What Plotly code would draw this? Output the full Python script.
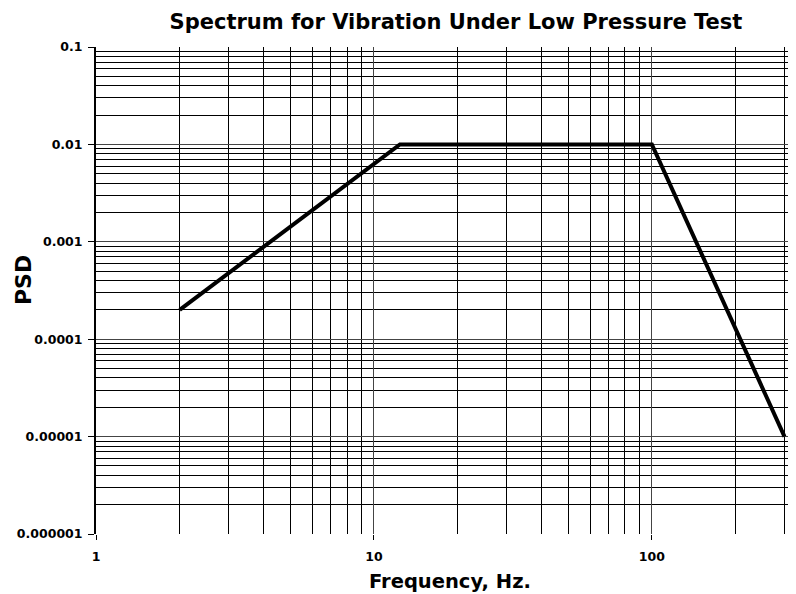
import numpy as np
import plotly.graph_objects as go

freq = [2, 12.4, 100, 300]
psd = [0.0002, 0.01, 0.01, 0.00001]

y_tickvals = [1e-6, 1e-5, 1e-4, 1e-3, 1e-2, 1e-1]
y_ticktext = ["0.000001", "0.00001", "0.0001", "0.001", "0.01", "0.1"]
x_tickvals = [1, 10, 100]
x_ticktext = ["1", "10", "100"]

x_minor = [m * 10 ** e for e in range(0, 3) for m in range(2, 10) if m * 10 ** e <= 330]
y_minor = [m * 10.0 ** e for e in range(-6, -1) for m in range(2, 10)]

font_fam = "DejaVu Sans, Arial, sans-serif"

# page body has an 8px default margin, so the figure is sized to fit the window
W, H = 788, 586
L, T, B = 88, 39, 60

fig = go.Figure()
fig.add_trace(go.Scatter(x=freq, y=psd, mode="lines",
                         line=dict(color="black", width=4), showlegend=False))

plot_h = H - T - B
fig.update_layout(
    width=W, height=H,
    paper_bgcolor="white", plot_bgcolor="white",
    margin=dict(l=L, r=0, t=T, b=B),
    title=dict(text="<b>Spectrum for Vibration Under Low Pressure Test</b>",
               x=448 / W, xanchor="center", y=1 - 14 / H, yanchor="middle",
               font=dict(family=font_fam, size=21, color="black")),
    font=dict(family=font_fam, color="black"),
    annotations=[
        dict(text="<b>Frequency, Hz.</b>", xref="paper", yref="paper",
             x=(450 - 8 - L) / (W - L), y=0, yshift=-(581 - 534),
             xanchor="center", yanchor="middle", showarrow=False,
             font=dict(size=19.5, family=font_fam, color="black")),
        dict(text="<b>PSD</b>", xref="paper", yref="paper",
             x=0, xshift=-(96 - 23), y=(534 - 280) / plot_h,
             xanchor="center", yanchor="middle", showarrow=False, textangle=-90,
             font=dict(size=22, family=font_fam, color="black")),
    ],
)
fig.update_xaxes(
    type="log", range=[0, np.log10(330)], automargin=False,
    tickvals=x_tickvals, ticktext=[f"<b>{t}</b>" for t in x_ticktext],
    tickfont=dict(size=12.5), ticks="outside", ticklen=5, tickcolor="black",
    ticklabelstandoff=6,
    showline=False,
    showgrid=True, gridcolor="#444", gridwidth=1,
    minor=dict(tickvals=x_minor, showgrid=True, gridcolor="black", gridwidth=1, ticks=""),
    zeroline=False,
)
fig.update_yaxes(
    type="log", range=[-6, -1], automargin=False,
    tickvals=y_tickvals, ticktext=[f"<b>{t}</b>" for t in y_ticktext],
    tickfont=dict(size=12.5), ticks="outside", ticklen=6, tickcolor="black",
    ticklabelstandoff=3,
    showline=True, linecolor="black", linewidth=2,
    showgrid=True, gridcolor="#444", gridwidth=1,
    minor=dict(tickvals=y_minor, showgrid=True, gridcolor="black", gridwidth=1, ticks=""),
    zeroline=False, mirror=False,
)
fig.write_html("out.html")
